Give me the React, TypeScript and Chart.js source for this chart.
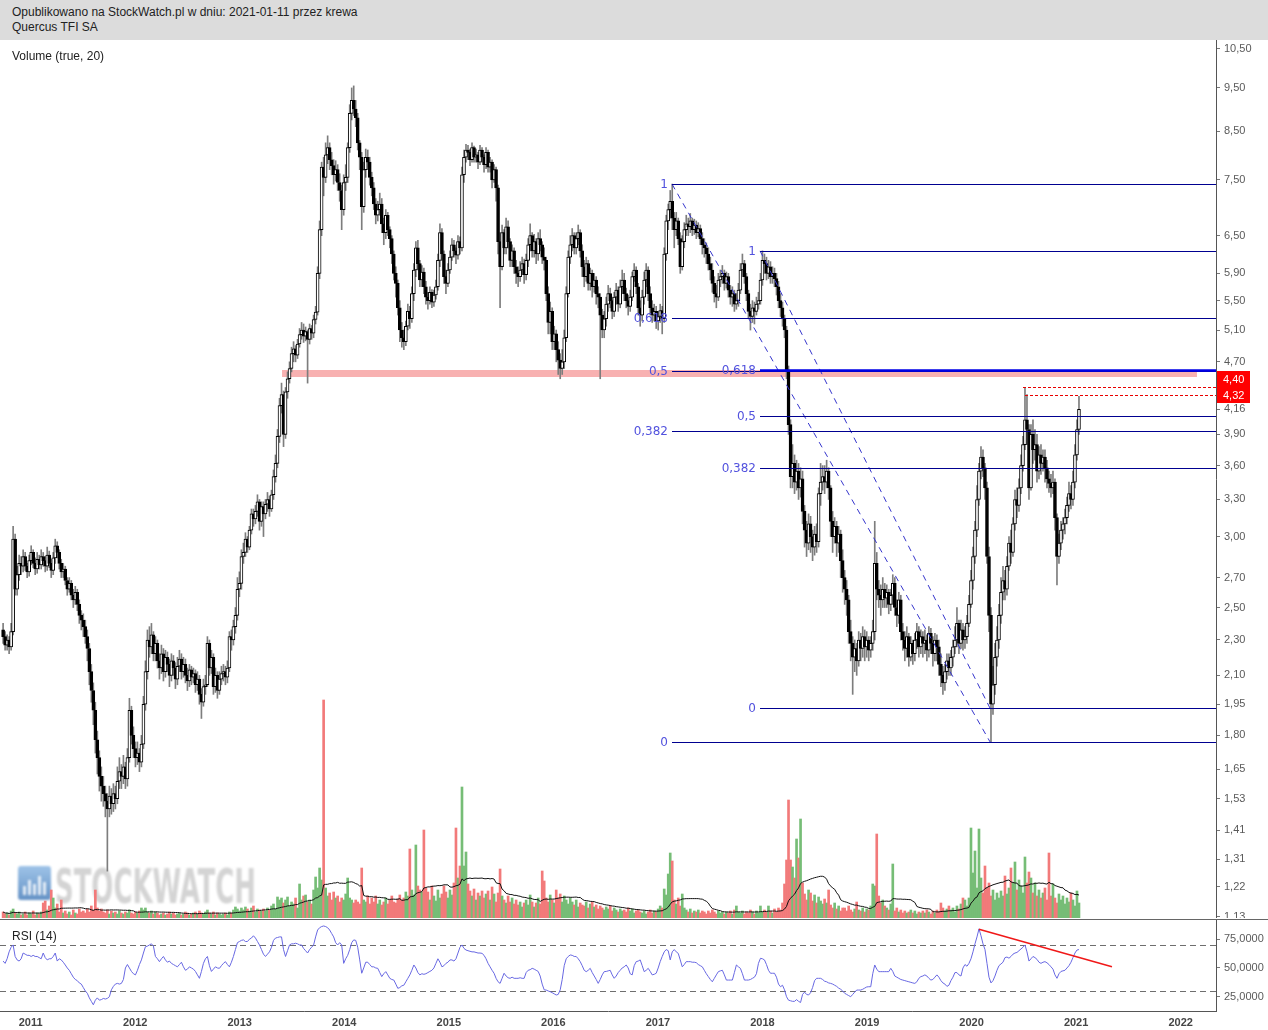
import React, { useEffect, useRef } from "react";
import { Chart, registerables } from "chart.js";

Chart.register(...registerables);

// ---------- DATA (weekly candles) ----------
const FIRST_WEEK = "2010-09-27";
const FIRST_OPEN = 2.36;

const CLOSE = [
  2.32,2.27,2.30,2.26,2.35,2.98,2.62,2.72,2.80,2.78,
  2.85,2.78,2.74,2.82,2.88,2.80,2.76,2.83,2.79,2.85,
  2.82,2.78,2.86,2.80,2.75,2.84,2.93,2.88,2.80,2.74,
  2.76,2.68,2.62,2.66,2.58,2.55,2.60,2.52,2.45,2.42,
  2.38,2.32,2.25,2.12,2.02,1.92,1.78,1.70,1.62,1.58,
  1.55,1.52,1.49,1.54,1.51,1.55,1.53,1.60,1.64,1.62,
  1.66,1.61,1.70,1.92,1.80,1.74,1.70,1.72,1.68,1.76,
  1.95,2.12,2.30,2.26,2.33,2.22,2.28,2.18,2.14,2.22,
  2.12,2.20,2.16,2.10,2.18,2.14,2.08,2.15,2.19,2.12,
  2.16,2.10,2.07,2.13,2.09,2.11,2.05,2.08,2.00,1.96,
  2.04,2.05,2.28,2.14,2.20,2.04,2.10,2.02,2.08,2.11,
  2.12,2.09,2.14,2.32,2.30,2.38,2.45,2.62,2.66,2.85,
  2.88,2.98,2.92,3.05,3.18,3.14,3.20,3.28,3.12,3.24,
  3.18,3.26,3.30,3.22,3.34,3.50,3.62,3.88,4.20,4.32,
  3.90,4.35,4.50,4.62,4.80,4.86,4.78,4.92,5.04,5.10,
  5.02,5.08,4.98,5.12,5.06,5.24,5.34,5.90,6.60,7.75,
  7.55,8.00,8.15,7.90,7.78,7.60,7.70,7.45,7.30,6.95,
  7.45,7.55,8.15,8.90,9.20,9.00,8.80,8.25,7.95,7.00,
  7.70,7.95,7.85,7.55,7.35,7.05,6.85,6.95,7.05,6.70,
  6.55,6.85,6.60,6.45,6.20,5.90,5.75,5.40,5.10,5.00,
  4.95,5.15,5.35,5.25,5.60,5.95,6.30,6.05,5.80,5.92,
  5.70,5.55,5.50,5.62,5.48,5.58,5.70,6.10,6.55,6.20,
  5.85,5.75,5.95,6.15,6.35,6.25,6.18,6.40,6.30,7.60,
  7.95,8.10,8.05,7.90,8.15,7.95,8.00,7.85,8.10,7.95,
  7.80,8.05,7.75,7.85,7.50,7.70,7.35,6.40,6.00,6.55,
  6.30,6.65,6.40,6.10,6.25,6.00,5.90,5.85,5.95,6.05,
  5.88,6.10,6.35,6.50,6.25,6.40,6.20,6.45,6.35,6.15,
  6.10,5.60,5.20,5.35,4.95,5.05,4.85,4.72,4.62,4.70,
  5.00,5.60,6.15,6.35,6.50,6.30,6.45,6.55,6.25,6.00,
  5.85,6.05,5.75,5.90,5.70,5.80,5.60,5.55,5.30,5.10,
  5.25,5.45,5.60,5.50,5.35,5.55,5.65,5.45,5.70,5.80,
  5.60,5.50,5.42,5.55,5.85,5.95,5.70,5.40,5.30,5.55,
  5.80,5.95,5.60,5.40,5.30,5.35,5.22,5.28,5.36,5.25,
  6.20,6.75,6.95,7.10,6.80,6.60,6.75,6.45,6.00,6.40,
  6.60,6.70,6.65,6.75,6.60,6.68,6.55,6.62,6.45,6.35,
  6.30,6.20,6.05,5.95,5.75,5.60,5.55,5.80,5.85,5.90,
  5.75,5.85,5.65,5.55,5.60,5.45,5.50,5.65,5.95,6.05,
  5.85,5.60,5.35,5.28,5.40,5.35,5.45,5.50,5.80,6.10,
  6.05,5.90,6.00,5.85,5.90,5.82,5.70,5.50,5.40,5.25,
  5.10,4.60,4.00,3.50,3.62,3.45,3.55,3.40,3.48,3.20,
  3.05,2.95,3.10,3.00,2.92,3.02,2.96,3.35,3.45,3.50,
  3.45,3.55,3.40,3.12,3.00,3.08,2.95,3.02,2.82,2.70,
  2.62,2.55,2.35,2.28,2.20,2.25,2.18,2.30,2.25,2.32,
  2.26,2.30,2.24,2.28,2.35,2.80,2.62,2.58,2.55,2.62,
  2.56,2.60,2.52,2.58,2.66,2.50,2.45,2.55,2.35,2.30,
  2.25,2.32,2.20,2.28,2.22,2.30,2.35,2.26,2.32,2.28,
  2.30,2.24,2.34,2.28,2.22,2.30,2.26,2.16,2.10,2.06,
  2.12,2.18,2.14,2.20,2.26,2.30,2.40,2.28,2.36,2.30,
  2.32,2.40,2.52,2.68,2.85,3.05,3.30,3.55,3.68,3.58,
  3.40,2.85,2.45,1.95,2.05,2.20,2.30,2.45,2.60,2.68,
  2.62,2.78,2.95,2.88,3.10,3.30,3.25,3.40,3.60,3.80,
  4.05,3.95,3.40,3.90,3.75,3.80,3.55,3.70,3.62,3.68,
  3.58,3.48,3.44,3.40,3.45,3.15,2.85,2.95,3.05,3.10,
  3.15,3.25,3.35,3.30,3.45,3.70,3.95,4.16,
];

const HIGH = [
  2.40,2.35,2.33,2.32,2.40,3.08,3.02,2.78,2.86,2.85,
  2.90,2.88,2.80,2.86,2.93,2.90,2.84,2.88,2.86,2.90,
  2.88,2.85,2.92,2.89,2.83,2.88,2.98,2.96,2.90,2.83,
  2.80,2.78,2.70,2.70,2.68,2.62,2.64,2.62,2.55,2.48,
  2.46,2.42,2.36,2.28,2.16,2.06,1.96,1.82,1.73,1.66,
  1.62,1.58,1.55,1.58,1.57,1.59,1.58,1.66,1.70,1.67,
  1.71,1.68,1.74,1.98,1.94,1.84,1.77,1.77,1.74,1.80,
  1.99,2.18,2.36,2.38,2.40,2.35,2.32,2.30,2.22,2.27,
  2.25,2.24,2.23,2.19,2.22,2.21,2.17,2.20,2.24,2.22,
  2.20,2.19,2.14,2.16,2.15,2.14,2.13,2.12,2.10,2.03,
  2.08,2.10,2.32,2.30,2.24,2.22,2.14,2.12,2.12,2.15,
  2.16,2.15,2.18,2.35,2.36,2.42,2.50,2.70,2.74,2.90,
  2.95,3.03,3.00,3.08,3.22,3.22,3.25,3.34,3.30,3.28,
  3.28,3.30,3.36,3.33,3.38,3.56,3.70,3.95,4.28,4.45,
  4.36,4.40,4.58,4.70,4.88,4.95,4.90,4.98,5.12,5.20,
  5.18,5.14,5.10,5.18,5.16,5.30,5.42,6.00,6.75,7.85,
  7.95,8.25,8.40,8.25,8.05,7.90,7.88,7.80,7.62,7.40,
  7.60,7.80,8.25,9.10,9.50,9.55,9.20,8.90,8.30,8.05,
  7.85,8.12,8.10,7.95,7.65,7.45,7.15,7.10,7.25,7.15,
  6.80,6.95,6.90,6.65,6.50,6.25,6.00,5.80,5.50,5.20,
  5.10,5.22,5.45,5.42,5.70,6.05,6.40,6.42,6.10,6.02,
  5.98,5.78,5.62,5.70,5.66,5.65,5.80,6.20,6.70,6.62,
  6.25,5.95,6.05,6.25,6.45,6.42,6.30,6.50,6.48,7.75,
  8.10,8.22,8.20,8.12,8.25,8.18,8.12,8.05,8.20,8.15,
  8.00,8.15,8.10,7.95,7.90,7.80,7.75,7.40,6.55,6.68,
  6.60,6.80,6.75,6.45,6.35,6.30,6.10,6.00,6.08,6.15,
  6.12,6.20,6.45,6.70,6.55,6.52,6.45,6.55,6.60,6.40,
  6.30,6.15,5.70,5.48,5.40,5.15,5.10,4.95,4.80,4.85,
  5.10,5.70,6.25,6.50,6.62,6.55,6.55,6.68,6.60,6.35,
  6.10,6.15,6.10,5.98,5.95,5.90,5.85,5.70,5.60,5.38,
  5.35,5.55,5.72,5.68,5.55,5.62,5.75,5.70,5.80,5.95,
  5.90,5.68,5.58,5.65,5.92,6.05,6.00,5.75,5.50,5.65,
  5.92,6.05,6.00,5.70,5.50,5.45,5.42,5.35,5.45,5.42,
  6.30,6.85,7.05,7.30,7.42,6.90,6.90,6.80,6.55,6.50,
  6.72,6.85,6.80,6.88,6.80,6.78,6.75,6.72,6.68,6.55,
  6.45,6.38,6.30,6.15,6.05,5.85,5.72,5.90,5.95,6.02,
  5.95,5.92,5.90,5.72,5.70,5.65,5.60,5.75,6.05,6.20,
  6.10,5.90,5.65,5.45,5.50,5.48,5.55,5.62,5.90,6.25,
  6.20,6.15,6.10,6.08,6.00,5.98,5.90,5.78,5.60,5.48,
  5.30,5.15,4.65,4.05,3.80,3.70,3.65,3.62,3.58,3.55,
  3.25,3.12,3.18,3.16,3.05,3.08,3.10,3.40,3.62,3.60,
  3.60,3.65,3.58,3.42,3.20,3.15,3.12,3.08,3.05,2.90,
  2.75,2.68,2.58,2.42,2.32,2.30,2.28,2.35,2.34,2.38,
  2.36,2.35,2.32,2.32,2.42,3.12,2.88,2.68,2.65,2.70,
  2.66,2.65,2.62,2.62,2.72,2.70,2.55,2.60,2.58,2.40,
  2.35,2.38,2.34,2.32,2.30,2.34,2.40,2.38,2.36,2.35,
  2.36,2.33,2.38,2.37,2.32,2.34,2.33,2.30,2.22,2.15,
  2.16,2.22,2.22,2.24,2.30,2.38,2.50,2.42,2.42,2.40,
  2.38,2.45,2.58,2.75,2.92,3.12,3.42,3.62,3.78,3.75,
  3.62,3.45,2.92,2.50,2.15,2.28,2.38,2.52,2.70,2.78,
  2.75,2.85,3.00,3.05,3.15,3.38,3.40,3.48,3.70,3.88,
  4.40,4.32,4.00,4.00,4.05,3.95,3.90,3.78,3.80,3.75,
  3.75,3.65,3.55,3.52,3.55,3.48,3.18,3.02,3.12,3.15,
  3.22,3.32,3.45,3.42,3.55,3.80,4.05,4.30,
];

const LOW = [
  2.28,2.24,2.24,2.22,2.24,2.33,2.58,2.58,2.68,2.72,
  2.74,2.75,2.70,2.71,2.79,2.77,2.72,2.73,2.76,2.76,
  2.78,2.74,2.75,2.77,2.70,2.72,2.80,2.84,2.76,2.70,
  2.70,2.65,2.58,2.60,2.55,2.50,2.52,2.48,2.40,2.36,
  2.32,2.28,2.18,2.05,1.96,1.85,1.72,1.63,1.56,1.52,
  1.50,1.46,1.27,1.46,1.47,1.48,1.49,1.51,1.57,1.57,
  1.59,1.57,1.58,1.68,1.76,1.70,1.66,1.67,1.64,1.66,
  1.74,1.92,2.08,2.20,2.22,2.18,2.18,2.14,2.08,2.11,
  2.07,2.09,2.12,2.04,2.07,2.10,2.03,2.05,2.12,2.08,
  2.09,2.06,2.02,2.04,2.05,2.06,2.01,2.02,1.95,1.88,
  1.94,2.00,2.04,2.10,2.11,2.00,2.01,1.98,2.00,2.05,
  2.07,2.05,2.06,2.12,2.24,2.27,2.34,2.42,2.57,2.62,
  2.80,2.85,2.88,2.90,3.02,3.08,3.10,3.16,3.05,3.08,
  3.00,3.14,3.20,3.16,3.20,3.30,3.45,3.58,3.82,4.12,
  3.78,3.86,4.28,4.45,4.58,4.70,4.70,4.74,4.88,4.98,
  4.94,4.96,4.45,4.92,4.98,5.00,5.18,5.30,5.82,6.50,
  7.20,7.45,7.82,7.70,7.60,7.42,7.48,7.30,7.10,6.60,
  6.85,7.30,7.45,8.05,8.75,8.85,8.60,8.10,7.70,6.60,
  6.90,7.55,7.70,7.40,7.20,6.95,6.70,6.75,6.85,6.55,
  6.35,6.45,6.50,6.30,6.05,5.80,5.55,5.30,4.95,4.88,
  4.85,4.90,5.10,5.12,5.20,5.50,5.85,5.95,5.70,5.70,
  5.60,5.45,5.38,5.45,5.40,5.42,5.52,5.65,6.00,6.10,
  5.75,5.60,5.70,5.90,6.10,6.15,6.05,6.12,6.20,6.25,
  7.45,7.85,7.90,7.78,7.85,7.85,7.85,7.72,7.80,7.85,
  7.65,7.72,7.65,7.65,7.35,7.45,7.10,6.20,5.40,5.95,
  6.20,6.20,6.30,6.00,6.00,5.90,5.75,5.70,5.78,5.88,
  5.75,5.80,6.00,6.25,6.15,6.15,6.05,6.10,6.25,6.05,
  5.95,5.50,5.05,5.05,4.85,4.85,4.70,4.55,4.50,4.55,
  4.62,4.95,5.55,6.05,6.25,6.20,6.20,6.35,6.15,5.85,
  5.70,5.78,5.65,5.65,5.55,5.62,5.45,5.40,4.50,5.00,
  5.00,5.15,5.35,5.40,5.25,5.28,5.45,5.35,5.40,5.60,
  5.50,5.40,5.30,5.35,5.50,5.78,5.60,5.30,5.15,5.22,
  5.45,5.70,5.50,5.30,5.20,5.22,5.12,5.10,5.20,5.05,
  5.20,6.10,6.60,6.80,6.60,6.30,6.50,6.35,5.90,5.95,
  6.30,6.50,6.50,6.55,6.50,6.52,6.45,6.48,6.35,6.20,
  6.15,6.05,5.95,5.80,5.62,5.48,5.40,5.50,5.70,5.75,
  5.65,5.68,5.55,5.45,5.42,5.35,5.38,5.42,5.60,5.85,
  5.75,5.50,5.25,5.10,5.20,5.18,5.30,5.38,5.45,5.72,
  5.90,5.80,5.82,5.75,5.75,5.70,5.58,5.40,5.28,5.15,
  5.00,4.50,3.90,3.40,3.40,3.35,3.38,3.30,3.32,3.10,
  2.92,2.85,2.90,2.88,2.82,2.86,2.88,2.92,3.25,3.38,
  3.35,3.40,3.30,3.00,2.88,2.95,2.85,2.88,2.70,2.60,
  2.52,2.45,2.28,2.18,2.00,2.12,2.10,2.15,2.18,2.20,
  2.18,2.20,2.18,2.20,2.24,2.30,2.55,2.50,2.45,2.50,
  2.50,2.50,2.46,2.48,2.52,2.45,2.38,2.40,2.30,2.24,
  2.18,2.20,2.15,2.18,2.16,2.18,2.25,2.20,2.22,2.20,
  2.22,2.18,2.20,2.22,2.15,2.18,2.18,2.10,2.04,2.00,
  2.02,2.08,2.10,2.10,2.15,2.22,2.26,2.22,2.25,2.24,
  2.25,2.28,2.38,2.50,2.62,2.80,3.00,3.25,3.48,3.50,
  3.30,2.80,2.35,1.77,1.90,2.00,2.15,2.25,2.40,2.55,
  2.55,2.58,2.75,2.80,2.85,3.05,3.15,3.20,3.35,3.55,
  3.75,3.80,3.30,3.38,3.62,3.65,3.45,3.48,3.52,3.55,
  3.45,3.40,3.36,3.32,3.35,3.05,2.65,2.80,2.90,2.98,
  3.02,3.10,3.20,3.22,3.25,3.40,3.65,3.90,
];

// volume (relative units, read as bar heights)
const VOLUME = [
  6,4,5,3,7,9,5,4,6,3,
  4,6,3,5,4,7,3,5,4,6,
  15,17,8,12,28,20,10,14,6,18,
  5,7,4,6,3,8,5,4,9,6,
  7,5,9,6,12,8,28,10,7,9,
  6,5,8,4,7,5,6,4,7,5,
  4,6,5,8,5,4,6,5,7,10,
  8,10,6,5,7,4,6,5,3,4,
  5,3,4,6,4,5,3,4,5,3,
  4,6,5,3,4,5,6,4,7,5,
  4,6,8,5,4,6,3,5,4,3,
  4,5,3,6,5,8,11,9,7,10,
  8,11,9,7,10,12,6,9,8,7,
  9,7,10,8,12,14,9,21,18,20,
  15,18,21,12,16,14,20,10,34,18,
  22,23,16,18,14,28,41,30,50,38,
  218,30,22,25,18,26,20,22,16,20,
  18,24,40,20,18,15,18,16,14,50,
  18,16,22,14,20,16,22,14,18,13,
  16,20,14,18,22,16,15,19,23,18,
  20,26,22,69,28,23,73,32,28,26,
  88,30,26,18,32,22,17,28,20,24,
  32,26,20,28,23,35,90,40,52,131,
  52,66,34,27,22,29,18,25,22,27,
  20,24,27,18,31,24,16,25,49,22,
  18,15,22,16,20,14,18,13,16,11,
  15,18,13,23,16,11,15,20,14,47,
  37,20,16,23,18,15,28,20,24,16,
  22,18,14,20,16,13,18,11,15,13,
  12,16,10,14,16,11,13,9,12,10,
  8,11,9,12,7,10,8,6,9,7,
  8,6,10,7,9,5,7,8,6,5,
  7,4,6,8,5,7,6,9,12,10,
  29,23,44,65,57,18,14,20,12,24,
  10,8,6,9,5,7,6,8,5,7,
  6,4,7,5,8,6,4,7,5,6,
  4,6,5,7,4,8,12,6,5,7,
  4,6,5,8,6,4,7,5,12,6,
  8,6,12,7,5,9,6,10,8,15,
  34,58,118,58,51,40,79,60,99,35,
  24,18,28,25,17,23,15,21,17,14,
  19,15,28,13,10,15,9,12,7,10,
  10,7,12,8,6,9,16,8,7,10,
  6,9,8,12,34,32,84,22,15,18,
  12,10,8,14,54,7,10,6,8,5,
  7,5,6,8,5,7,4,6,5,7,
  5,8,6,4,7,5,8,6,15,10,
  7,9,12,8,10,6,12,9,14,20,
  18,12,20,90,45,67,30,89,40,25,
  52,30,35,22,28,18,25,20,27,22,
  42,24,30,50,35,56,28,38,32,25,
  61,35,46,40,25,35,22,28,20,25,
  30,18,65,22,34,20,15,24,18,22,
  14,20,16,25,18,12,27,15,
];

// RSI (14)
const RSI = [
  56,54,58,64,68,70,60,57,56,58,
  63,62,61,61,60,61,60,60,59,58,
  63,59,57,58,58,60,63,56,58,57,
  55,52.6,50,48,45,42,40,39,37,36,
  33,30,28,24,21,18,22,24,22,22.5,
  23.5,23,23.6,25,31,34,36,36.6,36,36.6,
  40,50,53,50,47,45,44,48,53,57,
  63,68.5,69,70,71,69,60,58,55.5,58,
  60,57,55,56,54,53,52,51,53,55,
  51,48,49,51,50,49,47,44,41,47,
  54,58,60,52,47,49,51,50,49.7,52,
  54,55.5,53,51,55,60,66,72,73,74,
  74.4,73,73,75,76,78,76,73,70,66,
  62,60,62,64,68,74,76,76.5,77,77,
  66,60,65,70,71,71,71.5,71,70,70,
  67,65,63,66,68,70,77,83,85,86,
  86.5,86,85,83,80,77,72,70,72,70,
  54,58,61,66,72,74.4,74,68,57,45.4,
  50,55,55,53,51,51,50,49.7,46,42.5,
  45,46.8,44,41,40,39.5,36,32.3,33,34.5,
  35,38,41,44,48,52.6,50,46,44,45,
  44.5,45,46,47,48,50,54,58,55,51,
  52,54,55,57,57,56,58,63,68,70,
  67,65.6,65,64.5,64,64,63.5,63,63,62.7,
  61,58,54,51,48,45.4,41,38,36.6,41,
  45.4,43,41.5,41,42,41,41,41,41.5,41,
  41,46,48,48.5,49.7,49,48,47,43,36,
  31,30.8,30,29.4,28.5,27.5,26.5,27,31,40,
  52,58,60,61.3,61,60,60,58,55.5,52,
  48,46.8,48,49.7,46,43,40,36.6,40,44,
  46.8,47,47.5,48,44,41,43,46,48,50,
  51,52.6,50,45,44,52,55.5,56,57,52,
  46.8,48,49.7,47,44,44.5,45.4,50,55.5,60,
  64,66,65,57,64,66,64,62.7,57,51,
  53,55.5,55.5,55.5,55,55,54.6,53,52,51,
  48,45,42.5,40,38,41,44,46.8,47.5,48,
  44,39.5,39.5,39.5,39.5,46,52.6,51,49.7,45,
  39.5,39.5,39.5,40,41,42,45,54,58.4,58,
  57,53,48,45.4,45.4,45.4,42,36,33.7,35,
  31,25,22,21.5,21,21,22.5,21,20,27,
  29,27,26.5,28.5,33,39,41,41,41,40,
  38.5,38,37,36.6,36,35,34,32.5,31.5,30,
  28,27,26,25,27,29,30.8,30.8,30.8,31.5,
  32.5,33.5,33.7,33.7,45,52.6,49,46.8,46.8,46.8,
  46.8,46.8,46.8,49.7,47,43,42,41,40,39.5,
  39,38.5,38,37.5,37,36.6,38,41,42.5,43,
  44,43,41,39.5,40,42,44,42,39,37,
  36,34,35,39,42,46,46,44,43,50,
  53,51.5,54,58,64,71,77,84,78,71,
  66,54,42,37,39,43,48,52,53.5,55,
  59,59.5,58.5,60,62,63,63.5,65,66.5,68,
  70,64,56,58,60,59,57.5,55,54,55,
  55.5,54.5,53,51,49,44,41,45,47,47.5,
  48,50,52,55,59,63,65.6,66,
];

// axis ticks
const PRICE_TICKS = [10.5, 9.5, 8.5, 7.5, 6.5, 5.9, 5.5, 5.1, 4.7, 4.16, 3.9, 3.6, 3.3, 3.0, 2.7, 2.5, 2.3, 2.1, 1.95, 1.8, 1.65, 1.53, 1.41, 1.31, 1.22, 1.13];
const RSI_TICKS = [25, 50, 75];
const RSI_BANDS = [70, 30];
const YEAR_TICKS = [2011, 2012, 2013, 2014, 2015, 2016, 2017, 2018, 2019, 2020, 2021, 2022];

// drawings (in price / decimal-year units)
const FIB_LABELS = ["1", "0,618", "0,5", "0,382", "0"];
const FIB_A_PRICES = [7.42, 5.26, 4.595, 3.93, 1.77];
const FIB_B_PRICES = [6.25, 4.6, 4.09, 3.58, 1.93];
const FIB_A_START = 2017.135;
const FIB_B_START = 2017.977;
const FIB_TREND_END = 2020.177;
const SUPPORT_PRICE = 4.57;
const SUPPORT_FROM = 2013.405;
const SUPPORT_TO = 2022.156;
const RESIST_PRICES = [4.40, 4.32];
const RESIST_FROM = [2020.49, 2020.51];
const RSI_TREND_T = [2020.071, 2021.343];
const RSI_TREND_V = [83.6, 51.1];

// axis ranges
const X_MIN = 2010.7073;
const X_MAX = 2022.338;
const Y_MIN = 1.1259;
const Y_MAX = 10.745;
const RSI_MIN = 12.6;
const RSI_MAX = 91.7;

// ---------- helpers ----------
const DAY = 86400000;
const toYear = (ms: number) => {
  const y = new Date(ms).getUTCFullYear();
  const a = Date.UTC(y, 0, 1);
  const b = Date.UTC(y + 1, 0, 1);
  return y + (ms - a) / (b - a);
};
const firstMs = Date.parse(FIRST_WEEK + "T00:00:00Z");
const T = CLOSE.map((_, i) => toYear(firstMs + i * 7 * DAY));
const OPEN = CLOSE.map((_, i) => (i === 0 ? FIRST_OPEN : CLOSE[i - 1]));
const UP = CLOSE.map((c, i) => c >= OPEN[i]);
const VOL_MA = VOLUME.map((_, i) => {
  const s = Math.max(0, i - 19);
  let sum = 0;
  for (let k = s; k <= i; k++) sum += VOLUME[k];
  return sum / (i - s + 1);
});

const FONT = '"Liberation Sans", Arial, sans-serif';
const fmt = (v: number, d: number) => Number(v).toFixed(d).replace(".", ",");

function drawWatermark(ctx: CanvasRenderingContext2D, x0: number, y0: number) {
  ctx.save();
  ctx.globalAlpha = 0.8;
  ctx.filter = "blur(0.8px)";
  const g = ctx.createLinearGradient(x0, y0, x0, y0 + 34);
  g.addColorStop(0, "#86b4e2");
  g.addColorStop(1, "#3f78b8");
  ctx.fillStyle = g;
  ctx.beginPath();
  ctx.roundRect(x0, y0, 33, 34, 3);
  ctx.fill();
  ctx.fillStyle = "#ffffff";
  const bars = [9, 15, 11, 19, 13];
  bars.forEach((h, k) => ctx.fillRect(x0 + 5 + k * 5, y0 + 29 - h, 3, h));
  ctx.font = 'bold 48px "DejaVu Sans Condensed", "DejaVu Sans", sans-serif';
  const w = ctx.measureText("STOCKWATCH").width;
  ctx.translate(x0 + 37, y0 + 37);
  ctx.scale(201 / w, 1);
  ctx.fillStyle = "#c9c9c9";
  ctx.fillText("STOCKWATCH", 0, 0);
  ctx.restore();
}

const mainPlugin = {
  id: "mainDecor",
  beforeDatasetsDraw(chart: any) {
    const { ctx, scales } = chart;
    const x = scales.x, y = scales.y;
    drawWatermark(ctx, 18, 826);
    ctx.save();
    const yb = y.getPixelForValue(SUPPORT_PRICE);
    const x1 = x.getPixelForValue(SUPPORT_FROM);
    const x2 = x.getPixelForValue(SUPPORT_TO);
    ctx.fillStyle = "rgba(247,168,168,0.9)";
    ctx.fillRect(x1, Math.round(yb) - 3, x2 - x1, 7);
    ctx.restore();
    ctx.save();
    ctx.fillStyle = "#222";
    ctx.font = "12px " + FONT;
    ctx.textBaseline = "middle";
    ctx.fillText("Volume (true, 20)", 12, 17);
    ctx.restore();
  },
  afterDatasetsDraw(chart: any) {
    const { ctx, chartArea, scales } = chart;
    const x = scales.x, y = scales.y;
    const px = (t: number) => x.getPixelForValue(t);
    const py = (v: number) => y.getPixelForValue(v);
    const right = chartArea.right;
    ctx.save();
    // dashed trend lines
    ctx.setLineDash([6, 5]);
    ctx.strokeStyle = "#3535cc";
    ctx.lineWidth = 1;
    ctx.beginPath();
    ctx.moveTo(px(FIB_A_START), py(FIB_A_PRICES[0]));
    ctx.lineTo(px(FIB_TREND_END), py(FIB_A_PRICES[4]));
    ctx.moveTo(px(FIB_B_START), py(FIB_B_PRICES[0]));
    ctx.lineTo(px(FIB_TREND_END), py(FIB_B_PRICES[4]));
    ctx.stroke();
    ctx.setLineDash([]);
    // fib levels
    ctx.font = '12px "DejaVu Sans", Verdana, sans-serif';
    ctx.textAlign = "right";
    ctx.textBaseline = "middle";
    const drawFib = (start: number, prices: number[], strong: number) => {
      const x0 = Math.round(px(start));
      prices.forEach((p, k) => {
        const yy = Math.round(py(p)) + 0.5;
        ctx.beginPath();
        ctx.strokeStyle = k === strong ? "#0000e6" : "#000090";
        ctx.lineWidth = k === strong ? 2.5 : 1;
        ctx.moveTo(x0, yy);
        ctx.lineTo(right, yy);
        ctx.stroke();
        ctx.fillStyle = "#5252de";
        ctx.fillText(FIB_LABELS[k], x0 - 4, yy);
      });
    };
    drawFib(FIB_A_START, FIB_A_PRICES, -1);
    drawFib(FIB_B_START, FIB_B_PRICES, 1);
    // red dotted resistance lines
    ctx.setLineDash([3, 2]);
    ctx.strokeStyle = "#e80000";
    ctx.lineWidth = 1;
    RESIST_PRICES.forEach((p, k) => {
      const yy = Math.round(py(p)) + 0.5;
      ctx.beginPath();
      ctx.moveTo(Math.round(px(RESIST_FROM[k])), yy);
      ctx.lineTo(right, yy);
      ctx.stroke();
    });
    ctx.restore();
  },
  afterDraw(chart: any) {
    const { ctx, chartArea, scales } = chart;
    const y = scales.y;
    ctx.save();
    const h = 16;
    let prevTop = Infinity;
    const tops: number[] = [];
    for (let k = RESIST_PRICES.length - 1; k >= 0; k--) {
      let top = Math.round(y.getPixelForValue(RESIST_PRICES[k])) - 8;
      if (top + h > prevTop) top = prevTop - h;
      tops[k] = top;
      prevTop = top;
    }
    RESIST_PRICES.forEach((p, k) => {
      ctx.fillStyle = "#ff0000";
      ctx.fillRect(chartArea.right + 1, tops[k], 33, h);
      ctx.fillStyle = "#ffffff";
      ctx.font = "11px " + FONT;
      ctx.textBaseline = "middle";
      ctx.textAlign = "left";
      ctx.fillText(fmt(p, 2), chartArea.right + 7, tops[k] + h / 2 + 0.5);
    });
    ctx.restore();
  },
};

const rsiPlugin = {
  id: "rsiDecor",
  beforeDatasetsDraw(chart: any) {
    const { ctx, chartArea, scales, width } = chart;
    const y = scales.y;
    ctx.save();
    ctx.strokeStyle = "#666";
    ctx.lineWidth = 1;
    ctx.beginPath();
    ctx.moveTo(0, 1.5);
    ctx.lineTo(width, 1.5);
    ctx.stroke();
    ctx.setLineDash([6, 4]);
    ctx.strokeStyle = "#6e6e6e";
    RSI_BANDS.forEach((v) => {
      const yy = Math.round(y.getPixelForValue(v)) + 0.5;
      ctx.beginPath();
      ctx.moveTo(chartArea.left, yy);
      ctx.lineTo(chartArea.right, yy);
      ctx.stroke();
    });
    ctx.setLineDash([]);
    ctx.fillStyle = "#222";
    ctx.font = "12px " + FONT;
    ctx.textBaseline = "middle";
    ctx.fillText("RSI (14)", 12, 19);
    ctx.restore();
  },
  afterDatasetsDraw(chart: any) {
    const { ctx, scales } = chart;
    const x = scales.x, y = scales.y;
    ctx.save();
    ctx.strokeStyle = "#f01818";
    ctx.lineWidth = 1.5;
    ctx.beginPath();
    ctx.moveTo(x.getPixelForValue(RSI_TREND_T[0]), y.getPixelForValue(RSI_TREND_V[0]));
    ctx.lineTo(x.getPixelForValue(RSI_TREND_T[1]), y.getPixelForValue(RSI_TREND_V[1]));
    ctx.stroke();
    ctx.restore();
  },
};

const yAxisCommon = (min: number, max: number, ticks: number[], digits: number, type: string) => ({
  type,
  position: "right",
  min,
  max,
  afterBuildTicks: (s: any) => {
    s.ticks = ticks.map((v) => ({ value: v }));
  },
  afterFit: (s: any) => {
    s.width = 52;
    s.paddingTop = 0;
    s.paddingBottom = 0;
  },
  ticks: {
    autoSkip: false,
    padding: 4,
    color: "#5a5a5a",
    font: { family: FONT, size: 11 },
    callback: (v: any) => fmt(v, digits),
  },
  grid: { display: true, drawOnChartArea: false, drawTicks: true, tickLength: 4, color: "#777" },
  border: { display: true, color: "#555" },
});

export default function App() {
  const mainRef = useRef<HTMLCanvasElement | null>(null);
  const rsiRef = useRef<HTMLCanvasElement | null>(null);

  useEffect(() => {
    const main = new Chart(mainRef.current as HTMLCanvasElement, {
      type: "bar",
      data: {
        datasets: [
          {
            type: "bar",
            yAxisID: "yv",
            data: T.map((t, i) => ({ x: t, y: VOLUME[i] })),
            backgroundColor: UP.map((u) => (u ? "#76bd76" : "#f27a7a")),
            barThickness: 2,
            grouped: false,
            order: 4,
          },
          {
            type: "line",
            yAxisID: "yv",
            data: T.map((t, i) => ({ x: t, y: VOL_MA[i] })),
            borderColor: "#111",
            borderWidth: 1,
            pointRadius: 0,
            tension: 0,
            order: 3,
          },
          {
            type: "bar",
            yAxisID: "y",
            data: T.map((t, i) => ({ x: t, y: [LOW[i], HIGH[i]] })),
            backgroundColor: "#7d7d7d",
            barThickness: 1,
            grouped: false,
            order: 2,
          },
          {
            type: "bar",
            yAxisID: "y",
            data: T.map((t, i) => ({ x: t, y: [Math.min(OPEN[i], CLOSE[i]), Math.max(OPEN[i], CLOSE[i])] })),
            backgroundColor: UP.map((u) => (u ? "#ffffff" : "#000000")),
            borderColor: "#000000",
            borderWidth: 1,
            borderSkipped: false,
            barThickness: 3,
            grouped: false,
            order: 1,
          },
        ] as any,
      },
      options: {
        responsive: false,
        animation: false,
        devicePixelRatio: 1,
        events: [],
        layout: { padding: 0 },
        plugins: { legend: { display: false }, tooltip: { enabled: false } },
        scales: {
          x: { type: "linear", min: X_MIN, max: X_MAX, display: false, offset: false },
          y: yAxisCommon(Y_MIN, Y_MAX, PRICE_TICKS, 2, "logarithmic") as any,
          yv: { type: "linear", display: false, min: 0, max: 878 },
        },
      } as any,
      plugins: [mainPlugin],
    });

    const rsi = new Chart(rsiRef.current as HTMLCanvasElement, {
      type: "line",
      data: {
        datasets: [
          {
            data: T.map((t, i) => ({ x: t, y: RSI[i] })),
            borderColor: "#6868e2",
            borderWidth: 1,
            pointRadius: 0,
            tension: 0,
          },
        ],
      },
      options: {
        responsive: false,
        animation: false,
        devicePixelRatio: 1,
        events: [],
        layout: { padding: { top: 2, left: 0, right: 0, bottom: 0 } },
        plugins: { legend: { display: false }, tooltip: { enabled: false } },
        scales: {
          x: {
            type: "linear",
            min: X_MIN,
            max: X_MAX,
            afterBuildTicks: (s: any) => {
              s.ticks = YEAR_TICKS.map((v) => ({ value: v }));
            },
            afterFit: (s: any) => {
              s.height = 19;
              s.paddingLeft = 0;
              s.paddingRight = 0;
            },
            ticks: {
              autoSkip: false,
              maxRotation: 0,
              padding: 5,
              color: "#464646",
              font: { family: FONT, size: 11, weight: "bold" },
              callback: (v: any) => String(v),
            },
            grid: { display: false, drawTicks: false },
            border: { display: true, color: "#555" },
          },
          y: yAxisCommon(RSI_MIN, RSI_MAX, RSI_TICKS, 4, "linear") as any,
        },
      } as any,
      plugins: [rsiPlugin],
    });

    return () => {
      main.destroy();
      rsi.destroy();
    };
  }, []);

  return (
    <div style={{ position: "absolute", left: 0, top: 0, width: 1268, height: 1030, background: "#fff", fontFamily: FONT }}>
      <div
        style={{
          height: 40,
          background: "#dcdcdc",
          boxSizing: "border-box",
          padding: "5px 0 0 12px",
          fontSize: 12,
          lineHeight: "15px",
          color: "#222",
        }}
      >
        <div>Opublikowano na StockWatch.pl w dniu: 2021-01-11 przez krewa</div>
        <div>Quercus TFI SA</div>
      </div>
      <canvas ref={mainRef} width={1268} height={878} style={{ position: "absolute", left: 0, top: 40, display: "block" }} />
      <canvas ref={rsiRef} width={1268} height={112} style={{ position: "absolute", left: 0, top: 918, display: "block" }} />
    </div>
  );
}
